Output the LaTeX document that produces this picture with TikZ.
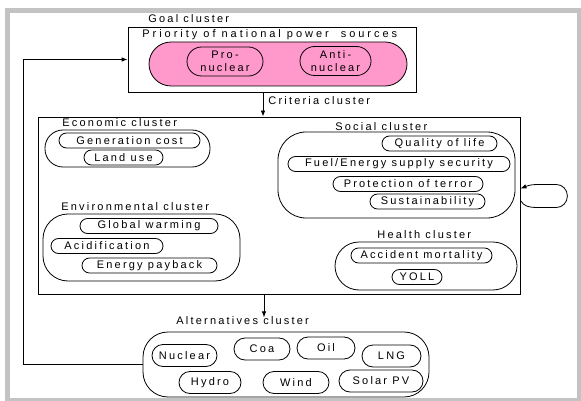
\documentclass[tikz,border=0pt]{standalone}
\usepackage{fontspec}
\setmainfont{Liberation Sans}[LetterSpace=20]
\usetikzlibrary{arrows.meta}
\definecolor{framegray}{HTML}{C3C3C3}
\definecolor{goalpink}{HTML}{FF99CC}
\newcommand{\fs}{\fontsize{11}{12.5}\selectfont}
\begin{document}
\begin{tikzpicture}[x=1pt,y=-1pt,line width=0.8pt,
  lbl/.style={font=\fs,inner sep=0,anchor=west},
  box/.style={draw,inner sep=0},
  pill/.style={draw,font=\fs,inner sep=0,minimum height=15pt,rounded corners=7.5pt},
  alt/.style={draw,font=\fs,inner sep=0,minimum height=22pt,rounded corners=11pt},
  arr/.style={-{Latex[length=6pt,width=4.5pt]}}]
\useasboundingbox (0,0) rectangle (581,401);
\fill[framegray] (5,8) rectangle (581,401);
\fill[white] (10,13) rectangle (577,397.5);
% goal
\node[lbl] (goallbl) at (148,19) {Goal cluster};
\node[box,minimum width=288pt,minimum height=65pt] (goal) at (272,59.5) {};
\node[lbl] (prio) at (142,35) {\addfontfeature{LetterSpace=27}Priority of national power\ \ sources};
\node[draw,fill=goalpink,inner sep=0,minimum width=258pt,minimum height=44pt,rounded corners=22pt] (pinkcap) at (278,64) {};
\node[draw,font=\fs,inner sep=0,align=center,minimum width=76pt,minimum height=29pt,rounded corners=14.5pt] (pro) at (225,61.5) {Pro-\\nuclear};
\node[draw,font=\fs,inner sep=0,align=center,minimum width=71pt,minimum height=29pt,rounded corners=14.5pt] (anti) at (335.5,61) {Anti-\\nuclear};
% criteria
\node[box,minimum width=482pt,minimum height=177pt] (crit) at (279,205.5) {};
\coordinate (ax) at (263,0);
\coordinate (bx) at (264,0);
\draw[arr] (goal.south -| ax) -- (crit.north -| ax);
\node[lbl] (critlbl) at (268,101) {Criteria cluster};
% economic
\node[lbl] (ecolbl) at (62,123) {Economic cluster};
\node[draw,inner sep=0,minimum width=165pt,minimum height=37pt,rounded corners=18pt] (eco) at (127.5,148.5) {};
\node[pill,minimum width=141pt] (gen) at (129.5,140.5) {Generation cost};
\node[pill,minimum width=79pt] (land) at (123.5,157.5) {Land use};
% environmental
\node[lbl] (envlbl) at (61,207) {Environmental cluster};
\node[draw,inner sep=0,minimum width=197pt,minimum height=67pt,rounded corners=25pt] (env) at (141.5,247.5) {};
\node[pill,minimum width=138pt] (glob) at (149,226) {Global warming};
\node[pill,minimum width=112pt] (acid) at (107,246) {Acidification};
\node[pill,minimum width=135pt] (epay) at (149.5,265.5) {Energy payback};
% social
\node[lbl] (soclbl) at (335,127) {Social cluster};
\node[draw,inner sep=0,minimum width=237pt,minimum height=86pt,rounded corners=28pt] (soc) at (396.5,175) {};
\node[pill,minimum width=115pt] (qol) at (439.5,143.5) {Quality of life};
\node[pill,minimum width=222pt] (fuel) at (399,164) {Fuel/Energy supply security};
\node[pill,minimum width=150pt] (prot) at (408,184) {Protection of terror};
\node[pill,minimum width=115pt] (sust) at (427.5,201.5) {Sustainability};
% health
\node[lbl] (heallbl) at (377,235) {Health cluster};
\node[draw,inner sep=0,minimum width=182pt,minimum height=48pt,rounded corners=24pt] (heal) at (426,266) {};
\node[pill,minimum width=141pt] (acc) at (421.5,255.5) {Accident mortality};
\node[pill,minimum width=50pt] (yoll) at (417,277) {YOLL};
% self loop
\draw[arr] ([yshift=5pt]crit.east) to[out=-60,in=180] ++(16,7) -- ++(20,0)
  to[out=0,in=-90] ++(11,-11.5) to[out=90,in=0] ++(-11,-11.5) -- ++(-20,0)
  to[out=180,in=20] ([yshift=17pt]crit.east);
% alternatives
\draw[arr] (crit.south -| bx) -- ++(0,23) coordinate (altarrow);
\node[lbl] (altlbl) at (176,321) {Alternatives cluster};
\node[draw,inner sep=0,minimum width=286pt,minimum height=65pt,rounded corners=25pt] (altc) at (286,364.5) {};
\node[alt,minimum width=65pt] (nuc) at (184.5,355.5) {Nuclear};
\node[alt,minimum width=56pt] (coa) at (262,349) {Coa};
\node[alt,minimum width=58pt] (oil) at (326,348) {Oil};
\node[alt,minimum width=59pt] (lng) at (391.5,356) {LNG};
\node[alt,minimum width=62pt] (hyd) at (210,382.5) {Hydro};
\node[alt,minimum width=66pt] (wind) at (296,382.5) {Wind};
\node[alt,minimum width=84pt] (sol) at (381,381) {Solar PV};
% feedback
\coordinate (fb) at (23,0);
\draw[arr] (altc.west) -- (altc.west -| fb) -- (goal.west -| fb) -- (goal.west);
\end{tikzpicture}
\end{document}
